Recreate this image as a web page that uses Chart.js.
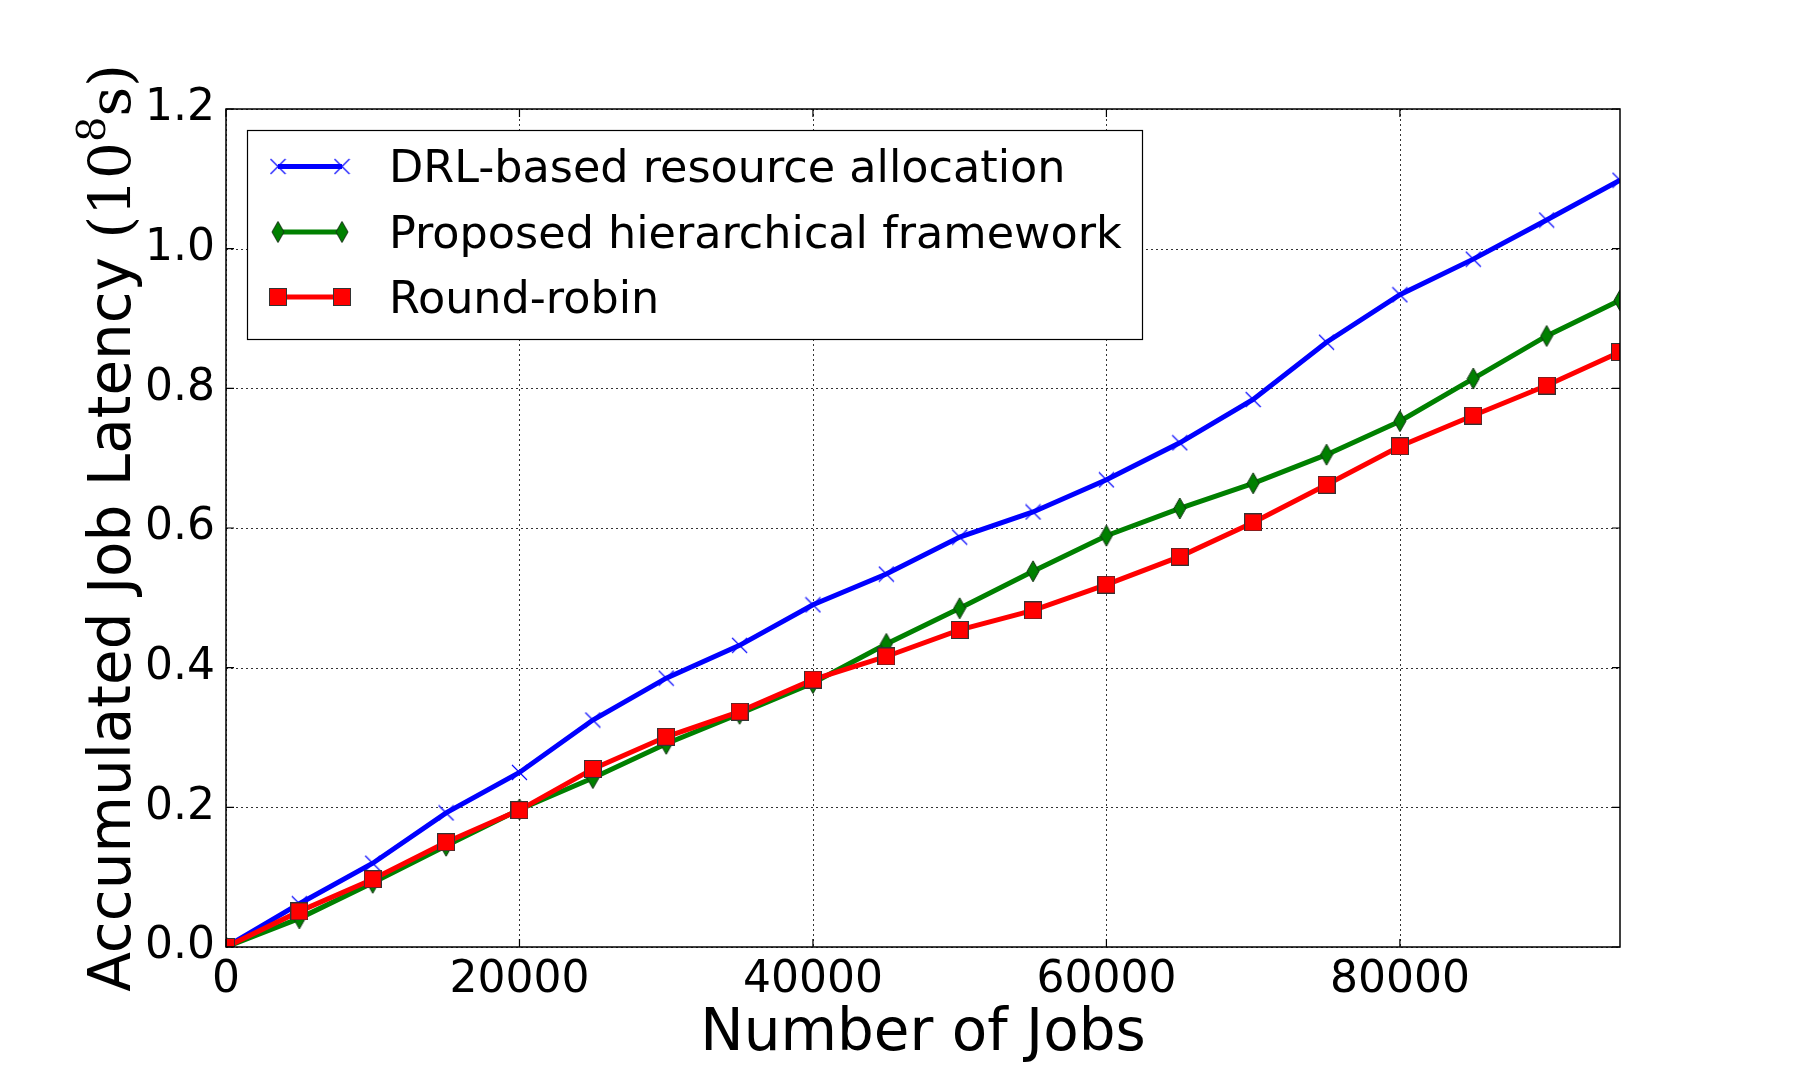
<!DOCTYPE html>
<html>
<head>
<meta charset="utf-8">
<script src="https://cdn.jsdelivr.net/npm/chart.js@4.4.0/dist/chart.umd.min.js"></script>
<style>
html,body{margin:0;padding:0;background:#fff;}
#wrap{width:1800px;height:1080px;position:relative;}
</style>
</head>
<body>
<div id="wrap"><canvas id="c" width="1800" height="1080"></canvas></div>
<script>
// ---------------- data ----------------
const jobs = [0,5000,10000,15000,20000,25000,30000,35000,40000,45000,50000,55000,60000,65000,70000,75000,80000,85000,90000,95000];
const drl = [0,0.062,0.120,0.192,0.250,0.325,0.385,0.432,0.490,0.534,0.587,0.623,0.669,0.722,0.784,0.866,0.934,0.985,1.041,1.098];
const proposed = [0,0.041,0.092,0.145,0.197,0.242,0.291,0.334,0.378,0.434,0.485,0.538,0.589,0.628,0.664,0.705,0.753,0.814,0.875,0.926];
const roundRobin = [0,0.051,0.097,0.150,0.196,0.255,0.301,0.337,0.383,0.416,0.454,0.482,0.519,0.559,0.608,0.662,0.717,0.761,0.804,0.852];
const seriesNames = ['DRL-based resource allocation','Proposed hierarchical framework','Round-robin'];
const xTicks = [0,20000,40000,60000,80000];
const yTicks = [0,0.2,0.4,0.6,0.8,1.0,1.2];
const xRange = [0,95000];
const yRange = [0,1.2];
const xTitle = 'Number of Jobs';
const yTitleText = 'Accumulated Job Latency ';
const yTitleUnitBase = '10';
const yTitleUnitExp = '8';
const yTitleUnitTail = 's';

// ---------------- markers ----------------
function mkCross(){
  const c=document.createElement('canvas');c.width=17;c.height=17;
  const g=c.getContext('2d');g.strokeStyle='#0000ff';g.lineWidth=1.1;
  g.beginPath();g.moveTo(1,1);g.lineTo(16,16);g.moveTo(16,1);g.lineTo(1,16);g.stroke();
  return c;
}
function mkDiamond(){
  const c=document.createElement('canvas');c.width=14;c.height=23;
  const g=c.getContext('2d');
  g.beginPath();g.moveTo(7,1);g.lineTo(13,11.5);g.lineTo(7,22);g.lineTo(1,11.5);g.closePath();
  g.fillStyle='#008000';g.fill();g.strokeStyle='#143214';g.lineWidth=1;g.stroke();
  return c;
}
function mkSquare(){
  const c=document.createElement('canvas');c.width=18;c.height=18;
  const g=c.getContext('2d');
  g.fillStyle='#ff0000';g.fillRect(0.5,0.5,17,17);
  g.strokeStyle='#333';g.lineWidth=1;g.strokeRect(0.5,0.5,17,17);
  return c;
}
const mCross=mkCross(), mDiamond=mkDiamond(), mSquare=mkSquare();
const colors=['#0000ff','#008000','#ff0000'];
const markers=[mCross,mDiamond,mSquare];

function pts(arr){return jobs.map((x,i)=>({x:x,y:arr[i]}));}

const SANS='"DejaVu Sans"';
const SERIF='"DejaVu Serif"';

// ---------------- plugins ----------------
const gridPlugin={
  id:'gridPlugin',
  beforeDatasetsDraw(chart){
    const {ctx,chartArea:a,scales:{x,y}}=chart;
    ctx.save();
    ctx.strokeStyle='rgba(0,0,0,0.8)';ctx.lineWidth=1;ctx.setLineDash([2,3]);
    xTicks.forEach(v=>{const px=Math.round(x.getPixelForValue(v))+0.5;ctx.beginPath();ctx.moveTo(px,a.top);ctx.lineTo(px,a.bottom);ctx.stroke();});
    yTicks.forEach(v=>{const py=Math.round(y.getPixelForValue(v))+0.5;ctx.beginPath();ctx.moveTo(a.left,py);ctx.lineTo(a.right,py);ctx.stroke();});
    ctx.restore();
  }
};
const framePlugin={
  id:'framePlugin',
  afterDatasetsDraw(chart){
    const {ctx,chartArea:a,scales:{x,y}}=chart;
    ctx.save();
    ctx.strokeStyle='#000';ctx.lineWidth=1.5;ctx.setLineDash([]);
    ctx.strokeRect(a.left,a.top,a.right-a.left,a.bottom-a.top);
    const tl=8;ctx.lineWidth=1.2;
    xTicks.forEach(v=>{const px=x.getPixelForValue(v);ctx.beginPath();ctx.moveTo(px,a.bottom);ctx.lineTo(px,a.bottom-tl);ctx.moveTo(px,a.top);ctx.lineTo(px,a.top+tl);ctx.stroke();});
    yTicks.forEach(v=>{const py=y.getPixelForValue(v);ctx.beginPath();ctx.moveTo(a.left,py);ctx.lineTo(a.left+tl,py);ctx.moveTo(a.right,py);ctx.lineTo(a.right-tl,py);ctx.stroke();});
    ctx.restore();
  }
};
const legendPlugin={
  id:'legendPlugin',
  afterDraw(chart){
    const {ctx,chartArea:a}=chart;
    const bx=a.left+21, by=a.top+21, bw=895, bh=209;
    ctx.save();
    ctx.fillStyle='#fff';ctx.fillRect(bx,by,bw,bh);
    ctx.strokeStyle='#000';ctx.lineWidth=1.2;ctx.strokeRect(bx+0.5,by+0.5,bw,bh);
    const rows=[by+36.5,by+102,by+167];
    const x1=bx+31,x2=bx+95,tx=bx+142;
    ctx.font='44.5px '+SANS;ctx.textBaseline='middle';ctx.textAlign='left';
    seriesNames.forEach((n,i)=>{
      const ry=rows[i];
      ctx.strokeStyle=colors[i];ctx.lineWidth=5;ctx.beginPath();ctx.moveTo(x1,ry);ctx.lineTo(x2,ry);ctx.stroke();
      const m=markers[i];
      ctx.drawImage(m,x1-m.width/2,ry-m.height/2);
      ctx.drawImage(m,x2-m.width/2,ry-m.height/2);
      ctx.fillStyle='#000';ctx.fillText(n,tx,ry+4);
    });
    ctx.restore();
  }
};
const titlePlugin={
  id:'titlePlugin',
  afterDraw(chart){
    const {ctx,chartArea:a}=chart;
    ctx.save();
    ctx.fillStyle='#000';
    // x title
    ctx.font='58px '+SANS;ctx.textAlign='center';ctx.textBaseline='alphabetic';
    ctx.fillText(xTitle,(a.left+a.right)/2,1050);
    // y title (rotated, mixed fonts)
    const segs=[
      {t:yTitleText,f:'58px '+SANS,dy:0},
      {t:'('+yTitleUnitBase,f:'58px '+SERIF,dy:0},
      {t:yTitleUnitExp,f:'40px '+SERIF,dy:-25},
      {t:yTitleUnitTail+')',f:'58px '+SERIF,dy:0}
    ];
    let total=0;segs.forEach(s=>{ctx.font=s.f;s.w=ctx.measureText(s.t).width;total+=s.w;});
    ctx.translate(130,(a.top+a.bottom)/2);ctx.rotate(-Math.PI/2);
    ctx.textAlign='left';
    let cx=-total/2;
    segs.forEach(s=>{ctx.font=s.f;ctx.fillText(s.t,cx,s.dy);cx+=s.w;});
    ctx.restore();
  }
};

// ---------------- chart ----------------
const datasets=[
  {label:seriesNames[0],data:pts(drl),borderColor:colors[0],backgroundColor:colors[0],borderWidth:5,pointStyle:mCross,pointRadius:8,order:3},
  {label:seriesNames[1],data:pts(proposed),borderColor:colors[1],backgroundColor:colors[1],borderWidth:5,pointStyle:mDiamond,pointRadius:8,order:2},
  {label:seriesNames[2],data:pts(roundRobin),borderColor:colors[2],backgroundColor:colors[2],borderWidth:5,pointStyle:mSquare,pointRadius:8,order:1}
];
datasets.forEach(d=>{d.tension=0;d.fill=false;d.clip=0;d.pointHoverRadius=8;});

new Chart(document.getElementById('c'),{
  type:'line',
  data:{datasets:datasets},
  options:{
    responsive:false,animation:false,devicePixelRatio:1,
    events:[],
    layout:{padding:{top:109,right:180,left:0,bottom:0}},
    plugins:{legend:{display:false},tooltip:{enabled:false},title:{display:false}},
    scales:{
      x:{type:'linear',min:xRange[0],max:xRange[1],
        afterBuildTicks:s=>{s.ticks=xTicks.map(v=>({value:v}));},
        afterFit:s=>{s.height=133;},
        grid:{display:false,drawTicks:false},border:{display:false},
        ticks:{font:{family:'DejaVu Sans',size:44},color:'#000',padding:7,maxRotation:0,autoSkip:false,callback:v=>String(v)}},
      y:{type:'linear',min:yRange[0],max:yRange[1],
        afterBuildTicks:s=>{s.ticks=yTicks.map(v=>({value:v}));},
        afterFit:s=>{s.width=226;},
        grid:{display:false,drawTicks:false},border:{display:false},
        ticks:{font:{family:'DejaVu Sans',size:44},color:'#000',padding:11,autoSkip:false,callback:v=>Number(v).toFixed(1)}}
    }
  },
  plugins:[gridPlugin,framePlugin,legendPlugin,titlePlugin]
});
</script>
</body>
</html>
